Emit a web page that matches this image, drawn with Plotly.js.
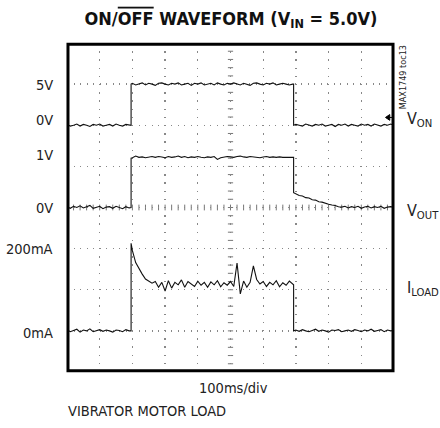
<!DOCTYPE html>
<html>
<head>
<meta charset="utf-8">
<script src="https://cdn.plot.ly/plotly-3.0.1.min.js"></script>
<style>html,body{margin:0;padding:0;background:#fff;}#chart{width:440px;height:428px;}</style>
</head>
<body>
<div id="chart"></div>
<script>
// time base in scope divisions (100ms/div)
const timeDiv = [0.0,0.1,0.2,0.3,0.4,0.5,0.6,0.7,0.8,0.9,1.0,1.1,1.2,1.3,1.4,1.5,1.6,1.7,1.8,1.9,
  1.96,1.96,
  2.0,2.1,2.2,2.3,2.4,2.5,2.6,2.7,2.8,2.9,3.0,3.1,3.2,3.3,3.4,3.5,3.6,3.7,3.8,3.9,
  4.0,4.1,4.2,4.3,4.4,4.5,4.6,4.7,4.8,4.9,5.0,5.1,5.2,5.3,5.4,5.5,5.6,5.7,5.8,5.9,
  6.0,6.1,6.2,6.3,6.4,6.5,6.6,6.7,6.8,6.9,
  6.93,6.93,
  7.0,7.1,7.2,7.3,7.4,7.5,7.6,7.7,7.8,7.9,8.0,8.1,8.2,8.3,8.4,8.5,8.6,8.7,8.8,8.9,
  9.0,9.1,9.2,9.3,9.4,9.5,9.6,9.7,9.8,9.9,10.0];

// V_ON (volts)
const vOn = [0.1,-0.1,0.0,0.15,-0.1,0.1,0.0,-0.15,0.1,0.0,0.15,-0.1,0.0,0.1,-0.1,0.15,0.0,-0.1,0.1,0.0,
  0.0,5.0,
  5.1,4.9,5.0,5.15,4.9,5.1,5.0,4.85,5.1,5.15,5.0,4.9,5.1,5.0,5.15,4.9,5.0,5.1,4.85,5.1,
  5.0,5.15,4.9,5.0,5.1,4.9,5.15,5.0,4.9,5.1,5.0,5.15,5.0,4.9,5.1,5.0,4.85,5.1,5.15,5.0,
  4.9,5.1,5.0,5.15,4.9,5.0,5.1,5.0,4.9,5.0,
  5.0,0.0,
  0.1,0.0,-0.1,0.15,0.0,-0.1,0.1,0.0,0.15,-0.1,0.0,0.1,-0.15,0.1,0.0,0.15,-0.1,0.1,0.0,-0.1,
  0.15,0.0,0.1,-0.1,0.15,0.0,-0.1,0.1,0.0,0.15,0.0];

// V_OUT (volts)
const vOut = [0.02,-0.02,0.03,0.0,0.04,-0.01,0.02,0.05,-0.02,0.0,0.03,-0.03,0.01,0.02,-0.02,0.03,0.0,-0.03,0.02,-0.01,
  0.0,1.20,
  1.21,1.25,1.22,1.23,1.21,1.22,1.24,1.22,1.24,1.23,1.21,1.24,1.22,1.23,1.25,1.22,1.24,1.21,1.23,1.22,
  1.24,1.22,1.21,1.23,1.22,1.24,1.17,1.21,1.22,1.24,1.23,1.22,1.24,1.25,1.23,1.22,1.24,1.23,1.22,1.21,
  1.23,1.24,1.22,1.23,1.22,1.23,1.22,1.22,1.23,1.22,
  1.22,0.36,
  0.33,0.29,0.28,0.24,0.23,0.19,0.18,0.14,0.13,0.10,0.08,0.06,0.05,0.02,0.01,0.03,-0.01,0.02,0.0,0.03,
  -0.02,0.01,0.03,-0.01,0.02,0.0,0.03,-0.02,0.01,0.02,0.0];

// I_LOAD (mA)
const iLoad = [3,-2,1,4,-3,2,0,5,-2,1,3,-1,2,0,-3,2,1,-2,3,0,
  0,213,
  195,166,150,138,126,122,116,120,106,118,97,122,104,118,112,124,106,120,115,108,
  121,111,118,106,119,112,122,107,117,111,120,108,165,90,121,106,118,158,125,114,
  120,108,118,112,122,107,117,111,121,112,
  112,0,
  2,-1,3,0,-2,1,4,-1,2,0,-3,2,1,3,-2,0,2,-1,3,1,-2,2,0,4,-1,1,3,-2,2,0,1];

// channel settings: units per division and zero level (in divisions)
const chOn = {perDiv: 5, zero: 6};
const chOut = {perDiv: 1, zero: 4};
const chLoad = {perDiv: 100, zero: 1};

const leftLabels = ['5V','0V','1V','0V','200mA','0mA'];
const leftLabelDiv = [6.97,6.13,5.28,3.99,2.99,0.96];
const rightLabels = ['V<sub>ON</sub>','V<sub>OUT</sub>','I<sub>LOAD</sub>'];
const rightLabelDiv = [6.15,3.9,2.03];

const toDiv = (arr, ch) => arr.map(v => ch.zero + v / ch.perDiv);

const FONT = 'DejaVu Sans Condensed, Liberation Sans Narrow, Arial Narrow, sans-serif';
const lineStyle = {color: '#111', width: 1.1};

const traces = [
  {x: timeDiv, y: toDiv(vOn, chOn), mode: 'lines', line: lineStyle, hoverinfo: 'skip', name: 'VON'},
  {x: timeDiv, y: toDiv(vOut, chOut), mode: 'lines', line: lineStyle, hoverinfo: 'skip', name: 'VOUT'},
  {x: timeDiv, y: toDiv(iLoad, chLoad), mode: 'lines', line: lineStyle, hoverinfo: 'skip', name: 'ILOAD'}
];

const shapes = [];
// center cross ticks (minor divisions)
for (let k = 0; k <= 40; k++) {
  shapes.push({type: 'line', xref: 'x', yref: 'y', x0: 4.92, x1: 5.08, y0: k * 0.2, y1: k * 0.2,
    line: {color: '#777', width: 1}, layer: 'below'});
}
for (let k = 0; k <= 50; k++) {
  shapes.push({type: 'line', xref: 'x', yref: 'y', x0: k * 0.2, x1: k * 0.2, y0: 3.93, y1: 4.07,
    line: {color: '#777', width: 1}, layer: 'below'});
}
// frame
shapes.push({type: 'rect', xref: 'paper', yref: 'paper', x0: 0.003, x1: 0.997, y0: 0.004, y1: 0.996,
  line: {color: '#000', width: 3}});
// trigger marker
shapes.push({type: 'path', xref: 'x', yref: 'y', path: 'M9.74,6.19 L9.87,6.26 L9.87,6.12 Z',
  fillcolor: '#000', line: {color: '#000', width: 1}});
shapes.push({type: 'line', xref: 'x', yref: 'y', x0: 9.87, x1: 9.98, y0: 6.19, y1: 6.19,
  line: {color: '#000', width: 1}});

const annotations = [];
leftLabels.forEach((t, i) => annotations.push({text: t, xref: 'paper', yref: 'y', x: -0.036, y: leftLabelDiv[i],
  xanchor: 'right', yanchor: 'middle', showarrow: false, font: {family: FONT, size: 14.5, color: '#222'}}));
rightLabels.forEach((t, i) => annotations.push({text: t, xref: 'paper', yref: 'y', x: 1.035, y: rightLabelDiv[i],
  xanchor: 'left', yanchor: 'middle', showarrow: false, font: {family: FONT, size: 16, color: '#222'}}));
annotations.push({text: '100ms/div', xref: 'paper', yref: 'paper', x: 0.509, y: -0.048,
  xanchor: 'center', yanchor: 'middle', showarrow: false, font: {family: FONT, size: 14.5, color: '#222'}});
annotations.push({text: 'VIBRATOR MOTOR LOAD', xref: 'paper', yref: 'paper', x: -0.002, y: -0.118,
  xanchor: 'left', yanchor: 'middle', showarrow: false, font: {family: FONT, size: 14.5, color: '#222'}});
annotations.push({text: 'MAX1749 toc13', xref: 'paper', yref: 'paper', x: 1.028, y: 1.0, textangle: -90,
  xanchor: 'center', yanchor: 'top', showarrow: false, font: {family: FONT, size: 9, color: '#222'}});

const layout = {
  width: 440, height: 428,
  margin: {l: 67, r: 46, t: 43, b: 56, pad: 0},
  paper_bgcolor: '#fff', plot_bgcolor: '#fff',
  showlegend: false,
  title: {text: '<b>ON/<span style="text-decoration:overline">OFF</span> WAVEFORM (V<sub>IN</sub> = 5.0V)</b>',
    x: 0.525, xref: 'container', xanchor: 'center', y: 0.957, yanchor: 'middle', yref: 'container',
    font: {family: FONT, size: 18, color: '#111'}},
  xaxis: {range: [0, 10], dtick: 1, tick0: 0, showticklabels: false, ticks: '', zeroline: false,
    showline: false, showgrid: true, gridcolor: '#888', gridwidth: 1.3, griddash: '1.3px,6.9px', fixedrange: true},
  yaxis: {range: [0, 8], dtick: 1, tick0: 0, showticklabels: false, ticks: '', zeroline: false,
    showline: false, showgrid: true, gridcolor: '#888', gridwidth: 1.3, griddash: '1.3px,5.2px', fixedrange: true},
  shapes: shapes,
  annotations: annotations
};

Plotly.newPlot('chart', traces, layout, {staticPlot: true, displayModeBar: false});
</script>
</body>
</html>
